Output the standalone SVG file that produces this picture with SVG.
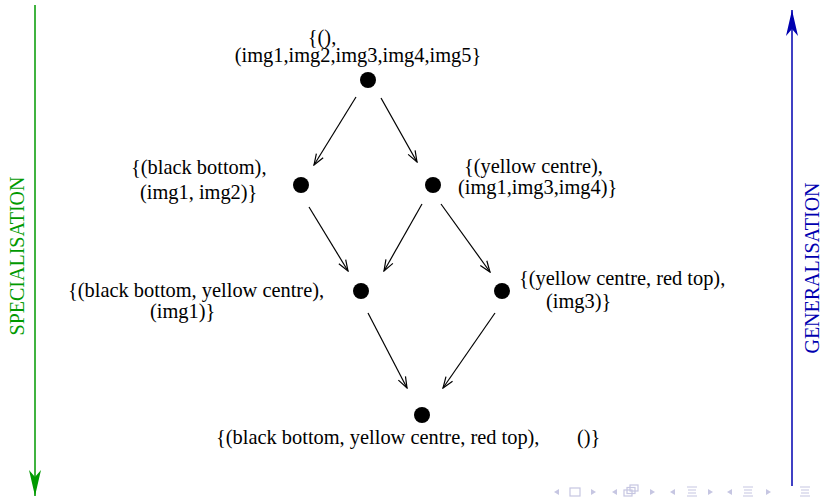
<svg xmlns="http://www.w3.org/2000/svg" width="822" height="498" viewBox="0 0 822 498">
  <style>
    .lbl { font-family: "Liberation Serif", "Times New Roman", serif; font-size: 20.4px; fill: #000; }
    .axis-lbl { font-family: "Liberation Serif", "Times New Roman", serif; font-size: 20px; }
    .node { fill: #000; }
    .edge { stroke: #000; stroke-width: 1.2; fill: none; marker-end: url(#open); }
    .nav { fill: none; stroke: #c6c6e2; stroke-width: 1.2; }
    .navf { fill: #c6c6e2; }
  </style>
  <defs>
    <marker id="open" viewBox="-12 -6 13 12" markerWidth="13" markerHeight="12" refX="0" refY="0" orient="auto" markerUnits="userSpaceOnUse">
      <path d="M-11,-4 L0,0 L-11,4" fill="none" stroke="#000" stroke-width="1.2"/>
    </marker>
    <marker id="headGreen" viewBox="-28 -7 29 14" markerWidth="29" markerHeight="14" refX="0" refY="0" orient="auto" markerUnits="userSpaceOnUse">
      <path d="M0,0 L-26,-6 L-19,0 L-26,6 Z" fill="#009a00"/>
    </marker>
    <marker id="headBlue" viewBox="-28 -7 29 14" markerWidth="29" markerHeight="14" refX="0" refY="0" orient="auto" markerUnits="userSpaceOnUse">
      <path d="M0,0 L-26,-6 L-19,0 L-26,6 Z" fill="#0000b0"/>
    </marker>
  </defs>

  <!-- side axes -->
  <g id="axis-specialisation">
    <line x1="35" y1="5" x2="35" y2="496" stroke="#009a00" stroke-width="1.5" marker-end="url(#headGreen)"/>
    <text class="axis-lbl" fill="#009a00" text-anchor="middle" transform="translate(24,256) rotate(-90)">SPECIALISATION</text>
  </g>
  <g id="axis-generalisation">
    <line x1="792" y1="486" x2="792" y2="10" stroke="#0000b0" stroke-width="1.5" marker-end="url(#headBlue)"/>
    <text class="axis-lbl" fill="#0000b0" text-anchor="middle" transform="translate(819,268) rotate(-90)">GENERALISATION</text>
  </g>

  <!-- connectors -->
  <g id="connectors">
    <line class="edge" x1="356" y1="97" x2="314" y2="165"/>
    <line class="edge" x1="381" y1="98" x2="417" y2="162"/>
    <line class="edge" x1="309" y1="207" x2="348" y2="271"/>
    <line class="edge" x1="422" y1="204" x2="384" y2="271"/>
    <line class="edge" x1="441" y1="204" x2="490" y2="272"/>
    <line class="edge" x1="368" y1="313" x2="407" y2="388"/>
    <line class="edge" x1="495" y1="313" x2="443" y2="388"/>
  </g>

  <!-- lattice nodes -->
  <g id="n-top">
    <circle class="node" cx="368" cy="80" r="8"/>
    <text class="lbl" x="322" y="44" text-anchor="middle">{(),</text>
    <text class="lbl" x="358" y="62" text-anchor="middle">(img1,img2,img3,img4,img5}</text>
  </g>
  <g id="n-black">
    <circle class="node" cx="301" cy="185" r="8"/>
    <text class="lbl" x="131" y="174">{(black bottom),</text>
    <text class="lbl" x="140" y="199">(img1, img2)}</text>
  </g>
  <g id="n-yellow">
    <circle class="node" cx="433" cy="185" r="8"/>
    <text class="lbl" x="464" y="173">{(yellow centre),</text>
    <text class="lbl" x="458" y="194">(img1,img3,img4)}</text>
  </g>
  <g id="n-black-yellow">
    <circle class="node" cx="361" cy="291" r="8"/>
    <text class="lbl" x="68" y="297">{(black bottom, yellow centre),</text>
    <text class="lbl" x="150" y="318">(img1)}</text>
  </g>
  <g id="n-yellow-red">
    <circle class="node" cx="502" cy="291" r="8"/>
    <text class="lbl" x="519" y="285">{(yellow centre, red top),</text>
    <text class="lbl" x="546" y="308">(img3)}</text>
  </g>
  <g id="n-all">
    <circle class="node" cx="422" cy="415" r="8"/>
    <text class="lbl" x="216" y="444">{(black bottom, yellow centre, red top),</text>
    <text class="lbl" x="577" y="444">()}</text>
  </g>

  <!-- slide navigation symbols -->
  <g id="navigation">
    <path class="navf" d="M554,492 L559,489 L559,495 Z"/>
    <rect class="nav" x="570" y="488" width="10" height="8"/>
    <path class="navf" d="M596,492 L591,489 L591,495 Z"/>
    <path class="navf" d="M612,492 L617,489 L617,495 Z"/>
    <rect class="nav" x="624" y="490" width="8" height="6"/>
    <rect class="nav" x="627" y="487.5" width="8" height="6"/>
    <rect class="nav" x="630" y="485" width="8" height="6"/>
    <path class="navf" d="M655,492 L650,489 L650,495 Z"/>
    <path class="navf" d="M670,492 L675,489 L675,495 Z"/>
    <path class="nav" d="M687,487 H697 M688,490 H696 M688,493 H696 M687,496 H697"/>
    <path class="navf" d="M713,492 L708,489 L708,495 Z"/>
    <path class="navf" d="M727,492 L732,489 L732,495 Z"/>
    <path class="nav" d="M743,487 H753 M744,490 H752 M744,493 H752 M743,496 H753"/>
    <path class="navf" d="M771,492 L766,489 L766,495 Z"/>
    <path class="nav" d="M800,487 H810 M801,490 H809 M801,493 H809 M800,496 H810"/>
  </g>
</svg>
